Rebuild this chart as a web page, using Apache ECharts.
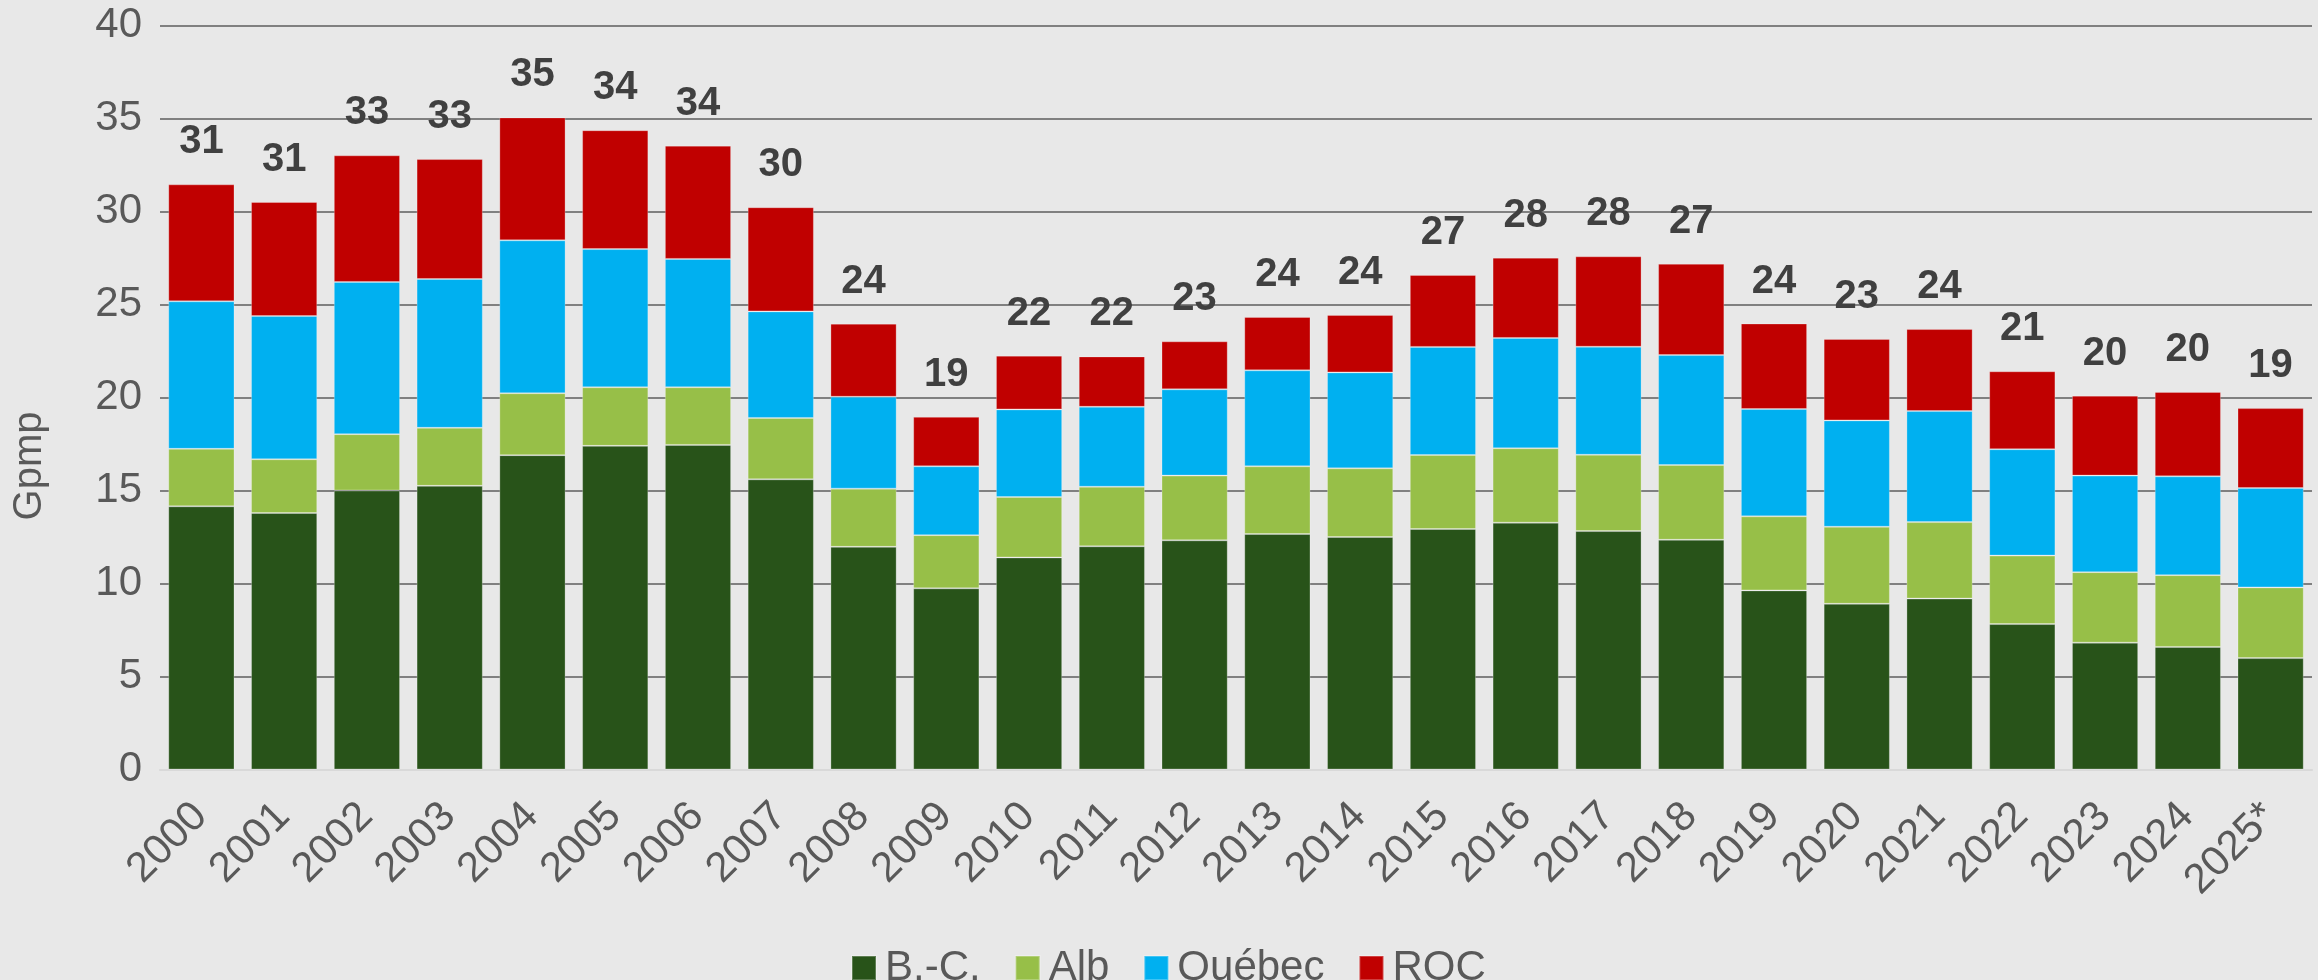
<!DOCTYPE html>
<html>
<head>
<meta charset="utf-8">
<script src="https://cdn.jsdelivr.net/npm/echarts@6/dist/echarts.min.js"></script>
<style>
  html, body { margin: 0; padding: 0; background: #e8e8e8; }
  #chart { width: 2318px; height: 980px; }
</style>
</head>
<body>
<div id="chart"></div>
<script>
// years on the x axis
const years = ['2000', '2001', '2002', '2003', '2004', '2005', '2006', '2007', '2008', '2009',
  '2010', '2011', '2012', '2013', '2014', '2015', '2016', '2017', '2018', '2019',
  '2020', '2021', '2022', '2023', '2024', '2025*']

// production by region, Gpmp
const bc = [14.15, 13.79, 15.0, 15.25, 16.9, 17.4, 17.45, 15.6, 11.97, 9.74,
  11.4, 12.0, 12.32, 12.66, 12.5, 12.93, 13.27, 12.82, 12.35, 9.63,
  8.91, 9.19, 7.82, 6.82, 6.59, 5.99]
const alb = [3.09, 2.89, 3.03, 3.12, 3.33, 3.15, 3.1, 3.3, 3.13, 2.86,
  3.25, 3.2, 3.48, 3.64, 3.69, 3.98, 4.0, 4.1, 4.02, 3.98,
  4.14, 4.11, 3.68, 3.79, 3.86, 3.8]
const quebec = [7.93, 7.7, 8.18, 8.0, 8.22, 7.43, 6.9, 5.73, 4.94, 3.7,
  4.71, 4.3, 4.64, 5.16, 5.16, 5.81, 5.93, 5.81, 5.91, 5.77,
  5.72, 5.97, 5.72, 5.19, 5.31, 5.34]
const roc = [6.29, 6.13, 6.81, 6.45, 6.61, 6.39, 6.09, 5.6, 3.93, 2.66,
  2.89, 2.71, 2.58, 2.87, 3.09, 3.87, 4.32, 4.86, 4.91, 4.6,
  4.38, 4.41, 4.19, 4.3, 4.54, 4.3]

// totals shown above the bars
const totals = [31, 31, 33, 33, 35, 34, 34, 30, 24, 19,
  22, 22, 23, 24, 24, 27, 28, 28, 27, 24,
  23, 24, 21, 20, 20, 19]

const font = 'Liberation Sans, Arial, sans-serif'

const chart = echarts.init(document.getElementById('chart'), null, { renderer: 'canvas' })

function barSeries(name, data, color) {
  return {
    name: name,
    type: 'bar',
    stack: 'total',
    data: data,
    barCategoryGap: '20%',
    itemStyle: { color: color, borderColor: 'rgba(255,255,255,0.25)', borderWidth: 1 },
    emphasis: { disabled: true }
  }
}

const series = [
  barSeries('B.-C.', bc, '#285319'),
  barSeries('Alb', alb, '#97bf48'),
  barSeries('Québec', quebec, '#00b0f0'),
  barSeries('ROC', roc, '#c00000')
]
series[3].label = {
  show: true,
  position: 'top',
  distance: 22,
  fontFamily: font,
  fontSize: 40,
  fontWeight: 'bold',
  color: '#404040',
  formatter: p => String(totals[p.dataIndex])
}

chart.setOption({
  backgroundColor: '#e8e8e8',
  animation: false,
  textStyle: { fontFamily: font },
  grid: { left: 160, right: 6, top: 25.5, bottom: 210.5, containLabel: false },
  legend: {
    left: 846,
    top: 942,
    itemWidth: 24,
    itemHeight: 24,
    itemGap: 34,
    icon: 'rect',
    textStyle: { fontFamily: font, fontSize: 42, color: '#595959', padding: [0, 0, 0, 4] },
    data: ['B.-C.', 'Alb', 'Québec', 'ROC']
  },
  xAxis: {
    type: 'category',
    data: years,
    axisLine: { show: true, lineStyle: { color: '#d9d9d9', width: 2 } },
    axisTick: { show: false },
    axisLabel: {
      interval: 0,
      rotate: 45,
      margin: 10,
      verticalAlign: 'top',
      padding: [0, 22, 0, 0],
      fontFamily: font,
      fontSize: 42,
      color: '#595959'
    }
  },
  yAxis: {
    type: 'value',
    min: 0,
    max: 40,
    interval: 5,
    axisLine: { show: false },
    axisTick: { show: false },
    axisLabel: { margin: 18, fontFamily: font, fontSize: 42, color: '#595959' },
    splitLine: { show: true, lineStyle: { color: '#808080', width: 2 } }
  },
  graphic: [{
    type: 'text',
    x: 30,
    y: 466,
    rotation: Math.PI / 2,
    style: {
      text: 'Gpmp',
      fontFamily: font,
      fontSize: 40,
      fill: '#595959',
      align: 'center',
      verticalAlign: 'middle'
    }
  }],
  series: series
})
</script>
</body>
</html>
